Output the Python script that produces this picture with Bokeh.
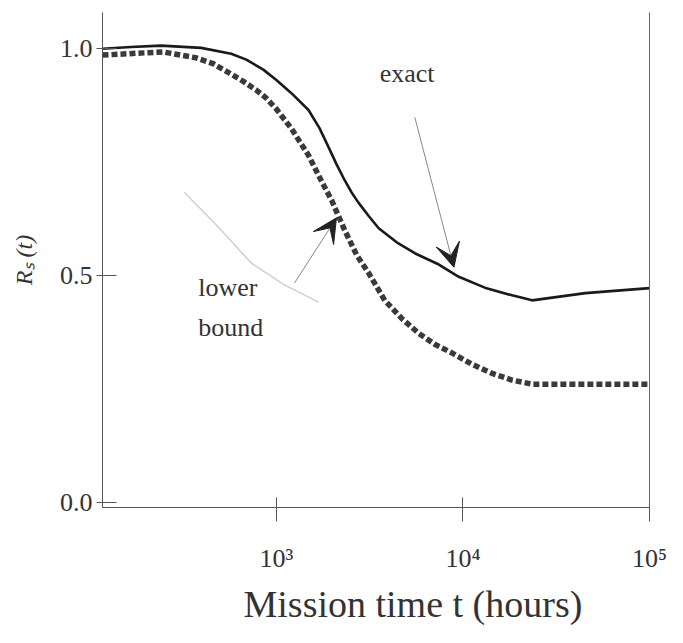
from bokeh.plotting import figure
from bokeh.models import FixedTicker, LinearAxis, Arrow, VeeHead, Range1d, Title
from bokeh.core.properties import value
from bokeh.embed import file_html
from bokeh.resources import INLINE

# Mission time (hours) and reliability, exact curve
exact_t = [117, 166, 241, 395, 573, 690, 851, 1000, 1204, 1487, 1703, 1904, 2103, 2323, 2531,
           2761, 3126, 3535, 4416, 5520, 7430, 9500, 13100, 18330, 23490, 45290, 100000]
exact_r = [1.000, 1.004, 1.007, 1.002, 0.989, 0.976, 0.954, 0.931, 0.902, 0.865, 0.825, 0.783,
           0.745, 0.710, 0.683, 0.660, 0.631, 0.604, 0.573, 0.549, 0.524, 0.497, 0.473, 0.456,
           0.445, 0.461, 0.472]

# Lower bound curve
lower_t = [117, 177, 247, 371, 459, 558, 665, 780, 883, 1000, 1204, 1487, 1746, 1977, 2323,
           2694, 3126, 3810, 4700, 5800, 7070, 8730, 11180, 14320, 18330, 23490, 100000]
lower_r = [0.986, 0.990, 0.993, 0.980, 0.967, 0.947, 0.928, 0.909, 0.891, 0.867, 0.824, 0.765,
           0.708, 0.666, 0.600, 0.545, 0.505, 0.445, 0.405, 0.372, 0.348, 0.329, 0.304, 0.284,
           0.269, 0.260, 0.260]

# faint leader curve visible in the figure
leader_t = [320, 488, 735, 1104, 1683]
leader_r = [0.684, 0.607, 0.527, 0.479, 0.441]

x_ticks = [1000, 10000, 100000]
x_tick_labels = ["10³", "10⁴", "10⁵"]
y_ticks = [0.0, 0.5, 1.0]
y_tick_labels = ["0.0", "0.5", "1.0"]

# annotations
exact_label = ["exact"]
exact_label_t = [3580]
exact_label_r = [0.946]
exact_arrow = (5520, 0.849, 8950, 0.518)
lower_label = ["lower", "bound"]
lower_label_t = [381, 381]
lower_label_r = [0.474, 0.386]
lower_arrow = (1250, 0.483, 2100, 0.627)

FONT = "Liberation Serif"

p = figure(width=680, height=640, x_axis_type="log",
           x_range=Range1d(117, 100000), y_range=Range1d(-0.012, 1.08),
           output_backend="svg", toolbar_location=None,
           min_border_left=102, min_border_right=31, min_border_top=12, min_border_bottom=133)
p.outline_line_color = None
p.grid.visible = False
p.background_fill_color = "white"

# axes
xa = p.xaxis[0]
xa.ticker = FixedTicker(ticks=x_ticks)
xa.major_label_overrides = {t: l for t, l in zip(x_ticks, x_tick_labels)}
xa.minor_tick_line_color = None
xa.major_tick_in = 10
xa.major_tick_out = 14
xa.major_label_standoff = 22

ya = p.yaxis[0]
ya.ticker = FixedTicker(ticks=y_ticks)
ya.major_label_overrides = {t: l for t, l in zip(y_ticks, y_tick_labels)}
ya.minor_tick_line_color = None
ya.major_tick_in = 14
ya.major_tick_out = 6
ya.major_label_standoff = 4
ya.axis_label = "Rₛ (t)"
ya.axis_label_standoff = 20
ya.axis_label_text_font_style = "italic"

for ax in (xa, ya):
    ax.axis_line_color = "#555555"
    ax.major_tick_line_color = "#555555"
    ax.major_label_text_font = FONT
    ax.major_label_text_color = "#333333"
    ax.axis_label_text_font = FONT
    ax.axis_label_text_color = "#333333"
xa.major_label_text_font_size = "26px"
ya.major_label_text_font_size = "26px"
ya.axis_label_text_font_size = "24px"

xtitle = Title(text="Mission time t (hours)", align="left", offset=141,
               text_font=FONT, text_font_size="38px", text_font_style="normal",
               text_color="#333333", standoff=10)
p.add_layout(xtitle, "below")

right = LinearAxis(ticker=FixedTicker(ticks=[]), major_label_text_font_size="0px",
                   major_tick_line_color=None, minor_tick_line_color=None,
                   axis_line_color="#666666")
p.add_layout(right, "right")

# curves
p.line(leader_t, leader_r, line_color="#cfcfcf", line_width=1.5)
p.line(exact_t, exact_r, line_color="#1a1a1a", line_width=2.6)
p.line(lower_t, lower_r, line_color="#3a3a3a", line_width=5.5, line_dash="6 3")

# text labels
p.text(x=exact_label_t, y=exact_label_r, text=exact_label,
       text_font=value(FONT), text_font_size="26px", text_color="#333333",
       text_align="left", text_baseline="middle")
p.text(x=lower_label_t, y=lower_label_r, text=lower_label,
       text_font=value(FONT), text_font_size="26px", text_color="#333333",
       text_align="left", text_baseline="middle")

# arrows
for (xs, ys, xe, ye) in (exact_arrow, lower_arrow):
    p.add_layout(Arrow(end=VeeHead(size=24, fill_color="#222222", line_color="#222222"),
                       x_start=xs, y_start=ys, x_end=xe, y_end=ye,
                       line_color="#888888", line_width=1))

open("out.html", "w").write(file_html(p, INLINE))
